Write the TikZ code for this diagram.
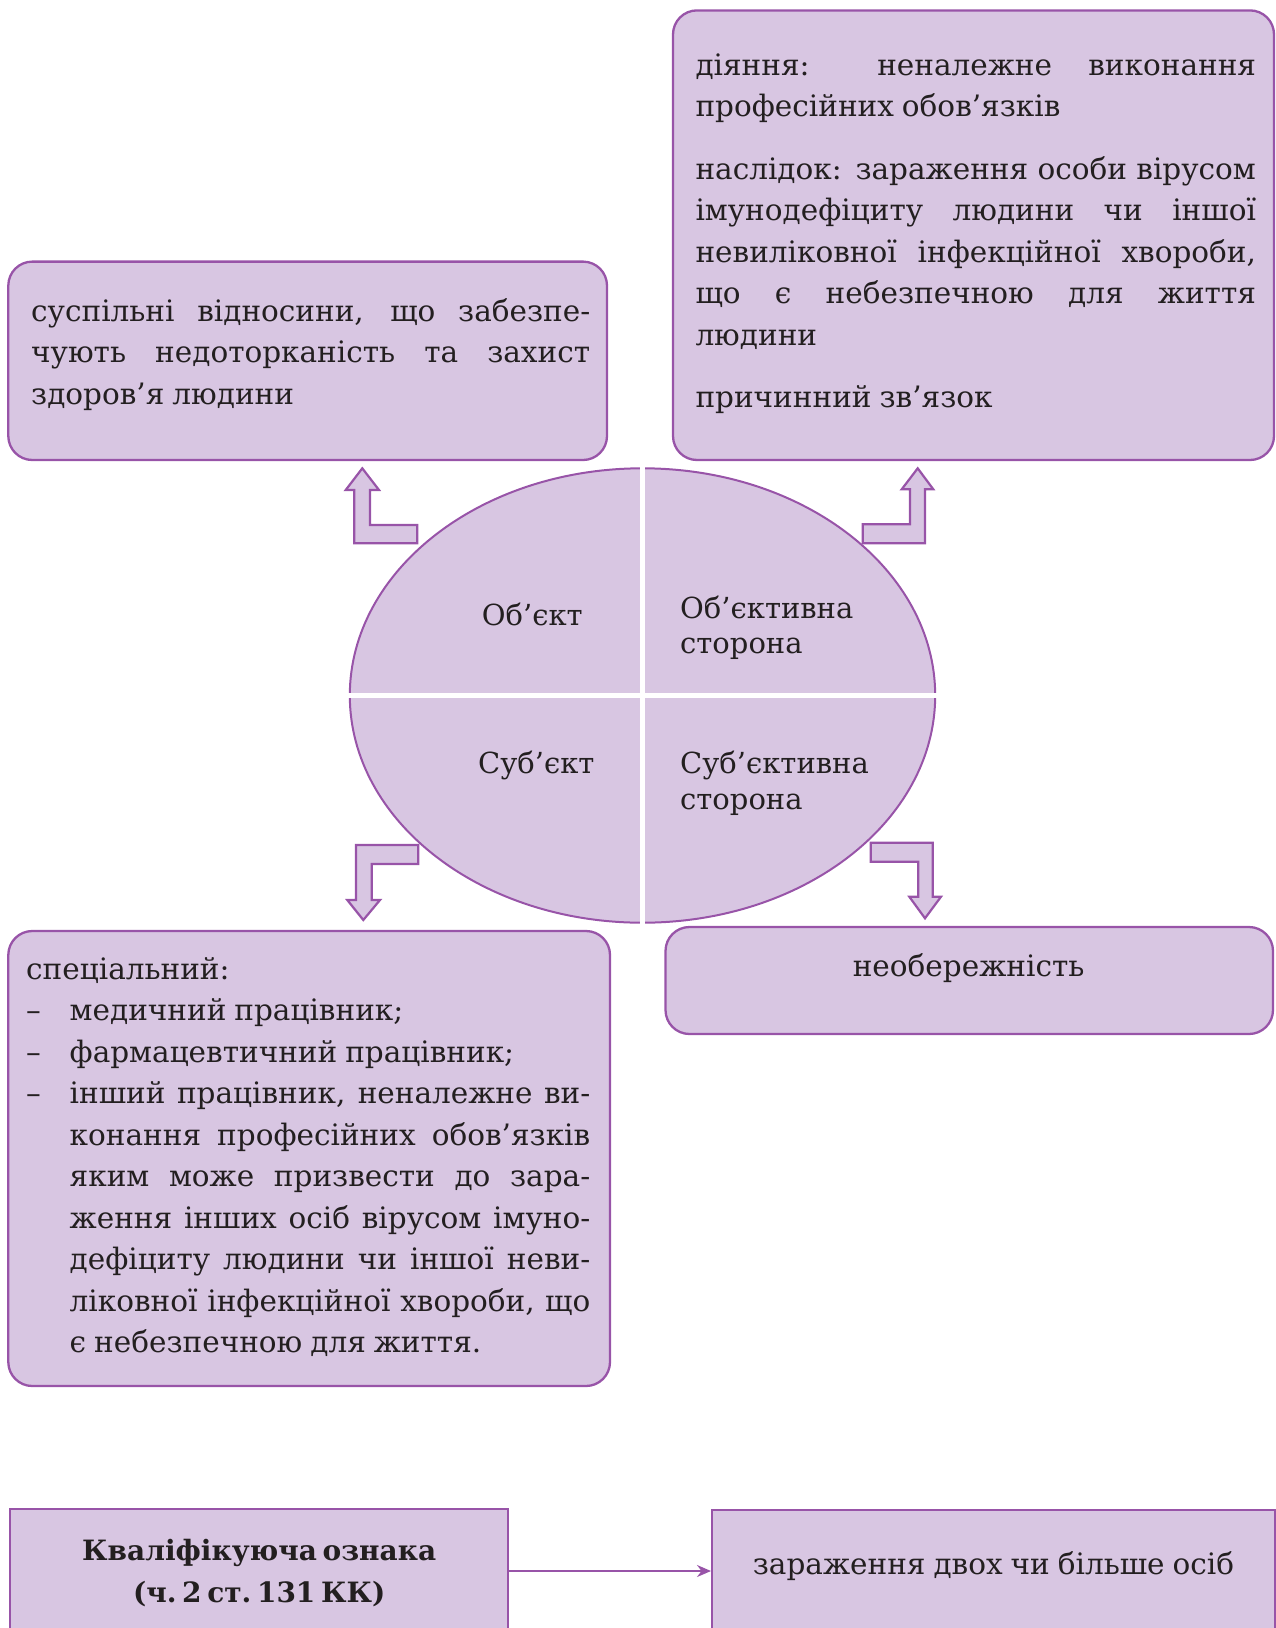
\documentclass[tikz,border=0pt]{standalone}
\usepackage{fontspec}
\setmainfont{DejaVu Serif}
\usetikzlibrary{shapes.geometric,arrows.meta}
\definecolor{lav}{RGB}{216,198,226}
\definecolor{pur}{RGB}{152,84,168}
\definecolor{ink}{RGB}{35,31,32}
\newcommand{\jl}[1]{\makebox[\linewidth][s]{#1}}
\newcommand{\tf}{\fontsize{29.5}{41.5}\selectfont\spaceskip=0.27em plus 0.6em minus 0.08em\relax}
\newcommand{\ef}{\fontsize{29}{35.5}\selectfont}
\newcommand{\dl}{\makebox[43.5pt][l]{–}}
\newcommand{\il}[1]{\makebox[520.5pt][s]{#1}}
\begin{document}
\begin{tikzpicture}[x=1pt,y=-1pt,
  card/.style={draw=pur, fill=lav, line width=2.3pt, rounded corners=24pt, inner sep=0pt},
  sqbox/.style={draw=pur, fill=lav, line width=2pt, inner sep=0pt},
  blockarrow/.style={draw=pur, fill=lav, line width=2.2pt, line join=miter},
  txt/.style={anchor=base west, inner sep=0pt, text=ink, font=\tf},
  etxt/.style={anchor=base west, inner sep=0pt, text=ink, font=\ef},
  ctxt/.style={anchor=base, inner sep=0pt, text=ink, font=\tf},
]
\path[use as bounding box] (0,0) rectangle (1276,1628);
\clip (0,0) rectangle (1276,1628);

% boxes
\node[card, minimum width=598.7pt, minimum height=198.4pt] (objbox) at (307.65,360.8) {};
\node[card, minimum width=601pt, minimum height=449.6pt] (osbox) at (973.5,235.2) {};
\node[card, minimum width=601.7pt, minimum height=455pt] (subbox) at (309.15,1158.5) {};
\node[card, minimum width=607.5pt, minimum height=107pt] (ssbox) at (969.25,980.5) {};
\node[sqbox, minimum width=497.6pt, minimum height=125pt] (qual) at (259.2,1571) {};
\node[sqbox, minimum width=563pt, minimum height=122pt] (res) at (993.5,1571) {};

% ellipse
\node[ellipse, draw=pur, fill=lav, line width=2pt, minimum width=585.4pt, minimum height=454.4pt, inner sep=0pt] (ell) at (642.5,695.5) {};
\draw[white, line width=5pt] ([yshift=6pt]ell.north) -- ([yshift=-6pt]ell.south);
\draw[white, line width=5pt] ([xshift=-6pt]ell.west) -- ([xshift=6pt]ell.east);

% block arrows
\draw[blockarrow] (354.3,543.3) -- (417.3,543.3) -- (417.3,525) -- (370,525) -- (370,490) -- (379,490) -- (362.3,468.3) -- (345.7,490) -- (354.3,490) -- cycle;
\draw[blockarrow] (925,543.3) -- (862.7,543.3) -- (862.7,524.3) -- (910,524.3) -- (910,489.3) -- (901.7,489.3) -- (917.7,468.3) -- (933.3,489.3) -- (925,489.3) -- cycle;
\draw[blockarrow] (418.3,845) -- (356,845) -- (356,900) -- (347.3,900) -- (363.3,920) -- (380,900) -- (371.7,900) -- (371.7,864) -- (418.3,864) -- cycle;
\draw[blockarrow] (870.7,842.7) -- (932.7,842.7) -- (932.7,896.7) -- (941,896.7) -- (925,918.3) -- (909.3,896.7) -- (918.3,896.7) -- (918.3,861.7) -- (870.7,861.7) -- cycle;

% connector
\draw[pur, line width=2pt, -{Stealth[length=14pt,width=12pt]}] (qual.east) -- (res.west);

% ellipse labels
\node[etxt] (lobj) at (481.7,625) {Об’єкт};
\node[etxt] (lobjs) at (680,618.3) {\parbox[t]{230pt}{\ef Об’єктивна\\сторона}};
\node[etxt] (lsub) at (478,773.3) {Суб’єкт};
\node[etxt] (lsubs) at (680,773.3) {\parbox[t]{230pt}{\fontsize{29}{36.5}\selectfont Суб’єктивна\\сторона}};

% box texts
\node[txt] (tobj) at (31,321) {\parbox[t]{559pt}{\tf\jl{суспільні відносини, що забезпе-}\\\jl{чують недоторканість та захист}\\здоров’я людини}};

\node[txt] (tos) at (695.3,75) {\parbox[t]{560.4pt}{\tf\jl{діяння: неналежне виконання}\\професійних обов’язків\par\vspace{21pt}%
\jl{наслідок: зараження особи вірусом}\\\jl{імунодефіциту людини чи іншої}\\\jl{невиліковної інфекційної хвороби,}\\\jl{що є небезпечною для життя}\\людини\par\vspace{21pt}%
причинний зв’язок}};

\node[txt] (tsub) at (26,979) {\parbox[t]{564pt}{\tf спеціальний:\\\dl медичний працівник;\\\dl фармацевтичний працівник;\\\dl\il{інший працівник, неналежне ви-}\\\hspace*{43.5pt}\il{конання професійних обов’язків}\\\hspace*{43.5pt}\il{яким може призвести до зара-}\\\hspace*{43.5pt}\il{ження інших осіб вірусом імуно-}\\\hspace*{43.5pt}\il{дефіциту людини чи іншої неви-}\\\hspace*{43.5pt}\il{ліковної інфекційної хвороби, що}\\\hspace*{43.5pt}є небезпечною для життя.}};

\node[ctxt] (tss) at (968.6,976) {необережність};

\node[anchor=base, inner sep=0pt, text=ink] (tqual) at (259.2,1560) {\parbox[t]{480pt}{\centering\fontsize{28}{42}\selectfont\bfseries\spaceskip=0.2em\relax Кваліфікуюча ознака\\(ч.~2~ст.~131~КК)}};
\node[ctxt] (tres) at (993.5,1574) {зараження двох чи більше осіб};
\end{tikzpicture}
\end{document}
